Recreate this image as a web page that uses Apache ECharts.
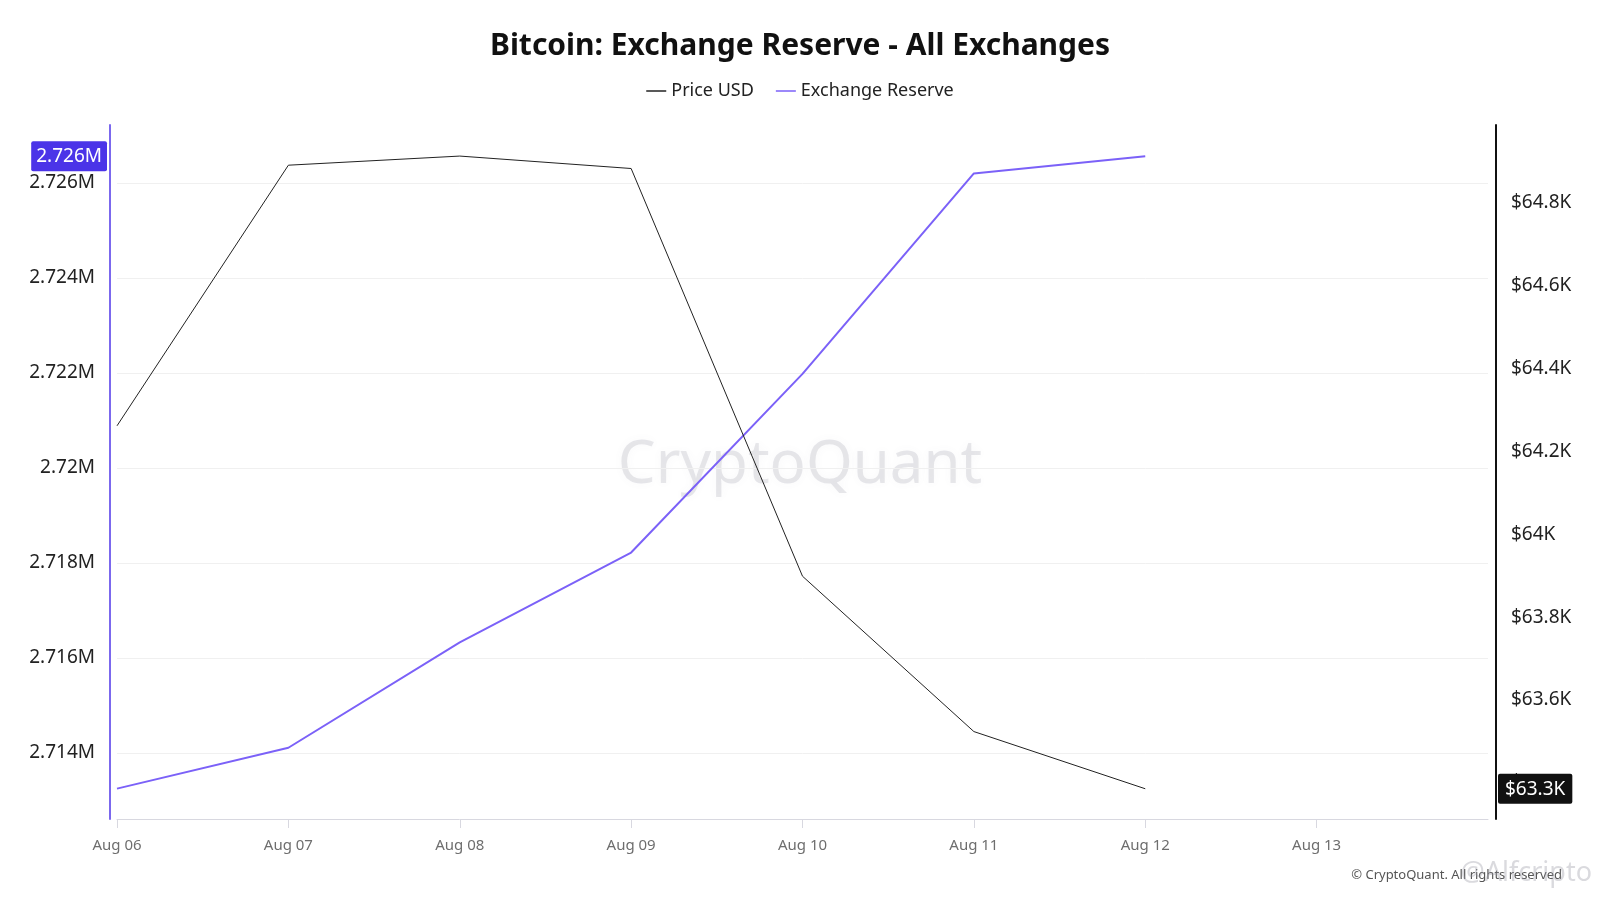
<!DOCTYPE html>
<html>
<head>
<meta charset="utf-8">
<script src="https://cdn.jsdelivr.net/npm/echarts@6/dist/echarts.min.js"></script>
<style>
  html, body { margin: 0; padding: 0; background: #fff; }
  #main { width: 1600px; height: 900px; }
</style>
</head>
<body>
<div id="main"></div>
<script>
// dates on the x axis (Aug 14 is only the right edge, no label)
var dates = ['Aug 06', 'Aug 07', 'Aug 08', 'Aug 09', 'Aug 10', 'Aug 11', 'Aug 12', 'Aug 13', 'Aug 14'];
// BTC price in USD
var priceUsd = [64262, 64891, 64913, 64883, 63899, 63524, 63386];
// BTC held on all exchanges
var reserve = [2713250, 2714110, 2716330, 2718220, 2721980, 2726200, 2726560];

var myChart = echarts.init(document.getElementById('main'));
var font = 'Noto Sans';

function fmtM(v) { return parseFloat((v / 1e6).toFixed(3)) + 'M'; }
function fmtK(v) { return '$' + parseFloat((v / 1000).toFixed(1)) + 'K'; }

var lastReserve = reserve[reserve.length - 1];
var lastPrice = priceUsd[priceUsd.length - 1];

var option = {
    backgroundColor: '#fff',
    textStyle: { fontFamily: font },
    title: {
        text: 'Bitcoin: Exchange Reserve - All Exchanges',
        left: 'center',
        top: 26,
        textStyle: { fontSize: 30, fontWeight: 'bold', color: '#111', fontFamily: font }
    },
    legend: {
        top: 77,
        left: 'center',
        itemWidth: 20,
        itemGap: 22,
        icon: 'path://M0,0 L20,0 L20,1.5 L0,1.5 Z',
        textStyle: { fontSize: 18, color: '#222', fontFamily: font },
        data: ['Price USD', 'Exchange Reserve']
    },
    grid: { left: 117, right: 112, top: 125, bottom: 81 },
    xAxis: {
        type: 'category',
        boundaryGap: false,
        data: dates,
        axisLine: { lineStyle: { color: '#d8d8e0', width: 1 } },
        axisTick: {
            show: true, length: 9, lineStyle: { color: '#d8d8e0' },
            interval: function (i) { return i < dates.length - 1; }
        },
        axisLabel: {
            color: '#6e6e6e', fontSize: 15, margin: 19, fontFamily: font,
            interval: function (i) { return i < dates.length - 1; }
        },
        splitLine: { show: false }
    },
    yAxis: [{
        type: 'value',
        position: 'left',
        offset: 7,
        min: 2712610,
        max: 2727220,
        splitNumber: 7,
        axisLine: { show: true, lineStyle: { color: '#7b68ee', width: 2 } },
        axisTick: { show: false },
        axisLabel: {
            color: '#222', fontSize: 19, margin: 15, fontFamily: font,
            showMinLabel: false, showMaxLabel: false,
            formatter: fmtM
        },
        splitLine: { show: true, showMinLine: false, showMaxLine: false, lineStyle: { color: '#f0f0f0', width: 1 } },
        axisPointer: {
            show: true,
            status: 'show',
            value: lastReserve,
            triggerTooltip: false,
            lineStyle: { opacity: 0 },
            label: {
                show: true,
                margin: 3,
                backgroundColor: '#4b34e8',
                color: '#fff',
                fontSize: 19,
                fontFamily: font,
                padding: [6, 5, 5, 5],
                borderRadius: 2,
                formatter: function (p) { return (Math.floor(p.value / 1000) / 1000).toFixed(3) + 'M'; }
            }
        }
    }, {
        type: 'value',
        position: 'right',
        offset: 8,
        min: 63313,
        max: 64988,
        splitNumber: 8,
        axisLine: { show: true, lineStyle: { color: '#111', width: 2 } },
        axisTick: { show: false },
        axisLabel: {
            color: '#222', fontSize: 19, margin: 15, fontFamily: font,
            showMinLabel: false, showMaxLabel: false,
            formatter: fmtK
        },
        splitLine: { show: false },
        axisPointer: {
            show: true,
            status: 'show',
            value: lastPrice,
            triggerTooltip: false,
            lineStyle: { opacity: 0 },
            label: {
                show: true,
                margin: 2,
                backgroundColor: '#111',
                color: '#fff',
                fontSize: 19,
                fontFamily: font,
                padding: [6, 7, 5, 7],
                borderRadius: 2,
                formatter: function (p) { return '$' + (Math.floor(p.value / 100) / 10).toFixed(1) + 'K'; }
            }
        }
    }],
    graphic: [{
        type: 'text',
        left: 'center',
        top: 436,
        z: -1,
        style: {
            text: 'CryptoQuant',
            fontSize: 60,
            fontFamily: font,
            fill: 'rgba(110,110,130,0.16)',
            textShadowColor: 'rgba(110,110,130,0.3)',
            textShadowBlur: 8
        }
    }, {
        type: 'text',
        right: 38,
        top: 869,
        style: {
            text: '\u00a9 CryptoQuant. All rights reserved',
            fontSize: 13,
            fontFamily: font,
            fill: '#555'
        }
    }, {
        type: 'text',
        right: 8,
        top: 860,
        style: {
            text: '@Alfcripto',
            fontSize: 27,
            fontFamily: font,
            fill: 'rgba(150,150,160,0.35)'
        }
    }],
    series: [{
        name: 'Price USD',
        type: 'line',
        yAxisIndex: 1,
        data: priceUsd,
        showSymbol: false,
        symbol: 'none',
        color: '#222',
        lineStyle: { width: 1, color: '#222' },
        z: 3
    }, {
        name: 'Exchange Reserve',
        type: 'line',
        yAxisIndex: 0,
        data: reserve,
        showSymbol: false,
        symbol: 'none',
        color: '#7b61f8',
        lineStyle: { width: 2, color: '#7b61f8' },
        z: 2
    }]
};

myChart.setOption(option);
window.onresize = function () { myChart.resize(); };
</script>
</body>
</html>
